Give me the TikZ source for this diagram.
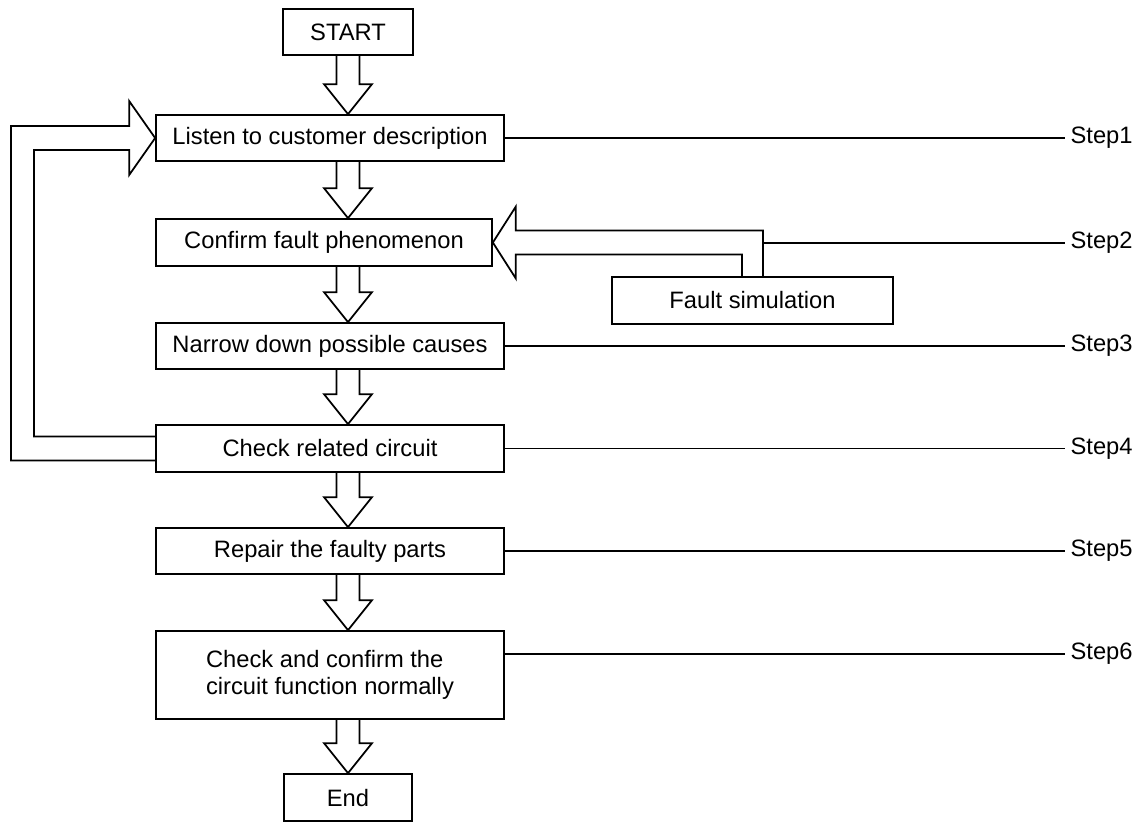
\documentclass[tikz,border=0pt]{standalone}
\usepackage{fontspec}
\setmainfont{Liberation Sans}
\usepackage{tikz}
\usetikzlibrary{calc}

\tikzset{
    box/.style={draw, line width=1pt, inner sep=0pt, minimum width=6.96cm, minimum height=0.92cm, align=center},
    fatarrow/.style={draw, line width=1pt, line join=miter},
    stepline/.style={line width=1pt},
    steplabel/.style={anchor=west, inner sep=3pt}
}

\newcommand{\fatdown}[2]{%
    \draw[fatarrow] ($(axis |- #1.south)+(-11.5,0)$) -- ($(axis |- #2.north)+(-11.5,-30)$)
        -- ($(axis |- #2.north)+(-24,-30)$) -- (axis |- #2.north)
        -- ($(axis |- #2.north)+(24,-30)$) -- ($(axis |- #2.north)+(11.5,-30)$)
        -- ($(axis |- #1.south)+(11.5,0)$);}

\begin{document}
\begin{tikzpicture}[x=0.02cm, y=-0.02cm, font=\fontsize{13.5pt}{15.5pt}\selectfont]

    \useasboundingbox (0,0) rectangle (1141,823);
    \coordinate (axis) at (348,0);

    \node[box, minimum width=2.6cm] (start) at (348,32) {START};
    \node[box] (listen) at (330,138) {Listen to customer description};
    \node[box, minimum width=6.72cm, minimum height=0.94cm] (confirm) at (324,242.5) {Confirm fault phenomenon};
    \node[box, minimum width=5.62cm, minimum height=0.94cm] (fault) at (752.5,300.5) {Fault simulation};
    \node[box] (narrow) at (330,346) {Narrow down possible causes};
    \node[box, minimum height=0.94cm] (check) at (330,448.5) {Check related circuit};
    \node[box] (repair) at (330,551) {Repair the faulty parts};
    \node[box, minimum height=1.76cm, align=left] (verify) at (330,675) {Check and confirm the\\circuit function normally};
    \node[box, minimum width=2.56cm, minimum height=0.94cm] (end) at (348,797.5) {End};

    \foreach \n/\y in {1/138, 2/243, 3/346, 4/448.5, 5/551, 6/654}
    \node[steplabel] (s\n) at (1065,\y) {Step\n};

    \foreach \a/\b in {start/listen, listen/confirm, confirm/narrow, narrow/check, check/repair, repair/verify, verify/end}
    \fatdown{\a}{\b};

    \coordinate (lout) at (11,0);
    \coordinate (lin) at (34,0);
    \draw[fatarrow] ($(check.west)+(0,12)$) -| ($(lout |- listen.west)+(0,-12)$)
        -- ($(listen.west)+(-26,-12)$) -- ($(listen.west)+(-26,-37)$) -- (listen.west)
        -- ($(listen.west)+(-26,37)$) -- ($(listen.west)+(-26,12)$)
        -| ($(lin |- check.west)+(0,-12)$) -- ($(check.west)+(0,-12)$);

    \coordinate (fout) at ($(fault.north)+(10.5,0)$);
    \draw[fatarrow] ($(fault.north)+(-10.5,0)$) |- ($(confirm.east)+(23,12)$)
        -- ($(confirm.east)+(23,36)$) -- (confirm.east) -- ($(confirm.east)+(23,-36)$)
        -- ($(confirm.east)+(23,-12)$) -| (fout);

    \draw[stepline] (listen.east) -- (s1.west);
    \draw[stepline] (fout |- s2.west) -- (s2.west);
    \draw[stepline] (narrow.east) -- (s3.west);
    \draw[stepline] (check.east) -- (s4.west);
    \draw[stepline] (repair.east) -- (s5.west);
    \draw[stepline] (verify.east |- s6.west) -- (s6.west);
\end{tikzpicture}
\end{document}
